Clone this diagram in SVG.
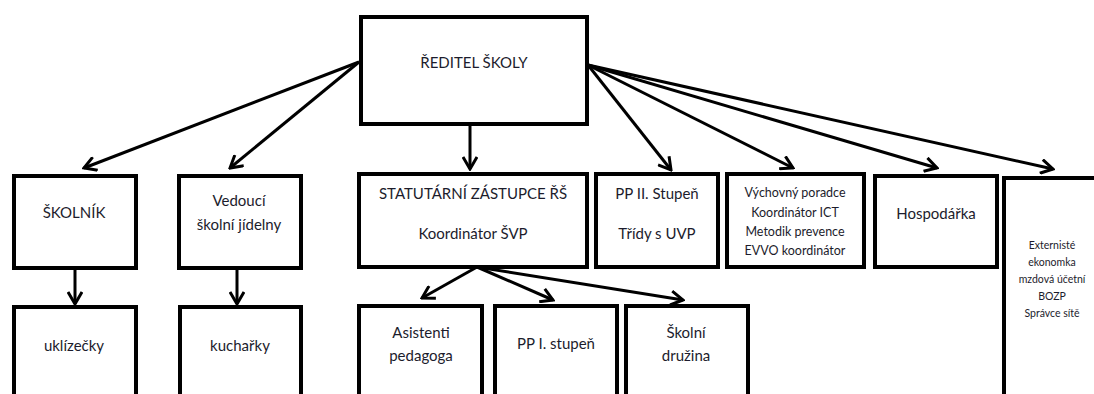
<svg xmlns="http://www.w3.org/2000/svg" width="1094" height="394" viewBox="0 0 1094 394">
<style>
.box{fill:#fff;stroke:#000;stroke-width:4}
.t{font-family:Lato,"Liberation Sans",sans-serif;font-size:15px;fill:#1c1c2c;text-anchor:middle;dominant-baseline:central}
.s{font-size:12.5px}
.xs{font-size:10.5px}
.c{fill:none;stroke:#000;stroke-width:3;marker-end:url(#ah)}
</style>
<defs>
<marker id="ah" markerWidth="16" markerHeight="16" viewBox="-14 -8 16 16" refX="0" refY="0" orient="auto" markerUnits="userSpaceOnUse">
<polyline points="-12,-7 0,0 -12,7" fill="none" stroke="#000" stroke-width="3" stroke-linejoin="miter"/>
</marker>
</defs>
<rect width="1094" height="394" fill="#fff"/>
<g id="connectors">
<line class="c" x1="359" y1="62" x2="84" y2="168"/>
<line class="c" x1="359" y1="62" x2="230" y2="168"/>
<line class="c" x1="470" y1="124" x2="470" y2="169"/>
<line class="c" x1="588" y1="65" x2="671" y2="170"/>
<line class="c" x1="588" y1="65" x2="793" y2="168"/>
<line class="c" x1="588" y1="65" x2="937" y2="168"/>
<line class="c" x1="588" y1="65" x2="1053" y2="169"/>
<line class="c" x1="75" y1="268" x2="75" y2="304"/>
<line class="c" x1="237" y1="268" x2="237" y2="304"/>
<line class="c" x1="477" y1="267" x2="422" y2="298"/>
<line class="c" x1="477" y1="267" x2="553" y2="300"/>
<line class="c" x1="477" y1="267" x2="683" y2="300"/>
</g>
<g id="reditel"><rect class="box" x="361" y="17" width="226" height="107"/><text class="t" x="474" y="62">ŘEDITEL ŠKOLY</text></g>
<g id="skolnik"><rect class="box" x="14" y="176" width="122" height="92"/><text class="t" x="74" y="212">ŠKOLNÍK</text></g>
<g id="vedouci"><rect class="box" x="179" y="176" width="122" height="92"/><text class="t" x="239" y="200">Vedoucí</text><text class="t" x="239" y="224">školní jídelny</text></g>
<g id="statutarni"><rect class="box" x="359" y="174" width="228" height="93"/><text class="t" x="473" y="193">STATUTÁRNÍ ZÁSTUPCE ŘŠ</text><text class="t" x="473" y="233">Koordinátor ŠVP</text></g>
<g id="pp2"><rect class="box" x="596" y="174" width="122" height="93"/><text class="t" x="657" y="193">PP II. Stupeň</text><text class="t" x="657" y="233">Třídy s UVP</text></g>
<g id="vychovny"><rect class="box" x="727" y="174" width="137" height="93"/><text class="t s" x="795" y="192">Výchovný poradce</text><text class="t s" x="795" y="212">Koordinátor ICT</text><text class="t s" x="795" y="231">Metodik prevence</text><text class="t s" x="795" y="250">EVVO koordinátor</text></g>
<g id="hospodarka"><rect class="box" x="875" y="176" width="122" height="91"/><text class="t" x="936" y="213">Hospodářka</text></g>
<g id="externiste"><rect class="box" x="1004" y="178" width="110" height="240"/><text class="t xs" x="1052" y="245">Externisté</text><text class="t xs" x="1052" y="262">ekonomka</text><text class="t xs" x="1052" y="279">mzdová účetní</text><text class="t xs" x="1052" y="296">BOZP</text><text class="t xs" x="1052" y="313">Správce sítě</text></g>
<g id="uklizecky"><rect class="box" x="14" y="307" width="122" height="110"/><text class="t" x="74" y="345">uklízečky</text></g>
<g id="kucharky"><rect class="box" x="180" y="307" width="121" height="110"/><text class="t" x="240" y="345">kuchařky</text></g>
<g id="asistenti"><rect class="box" x="359" y="306" width="123" height="110"/><text class="t" x="421" y="332">Asistenti</text><text class="t" x="421" y="355">pedagoga</text></g>
<g id="pp1"><rect class="box" x="495" y="306" width="122" height="110"/><text class="t" x="556" y="343">PP I. stupeň</text></g>
<g id="druzina"><rect class="box" x="626" y="306" width="122" height="110"/><text class="t" x="686" y="332">Školní</text><text class="t" x="686" y="355">družina</text></g>
</svg>
